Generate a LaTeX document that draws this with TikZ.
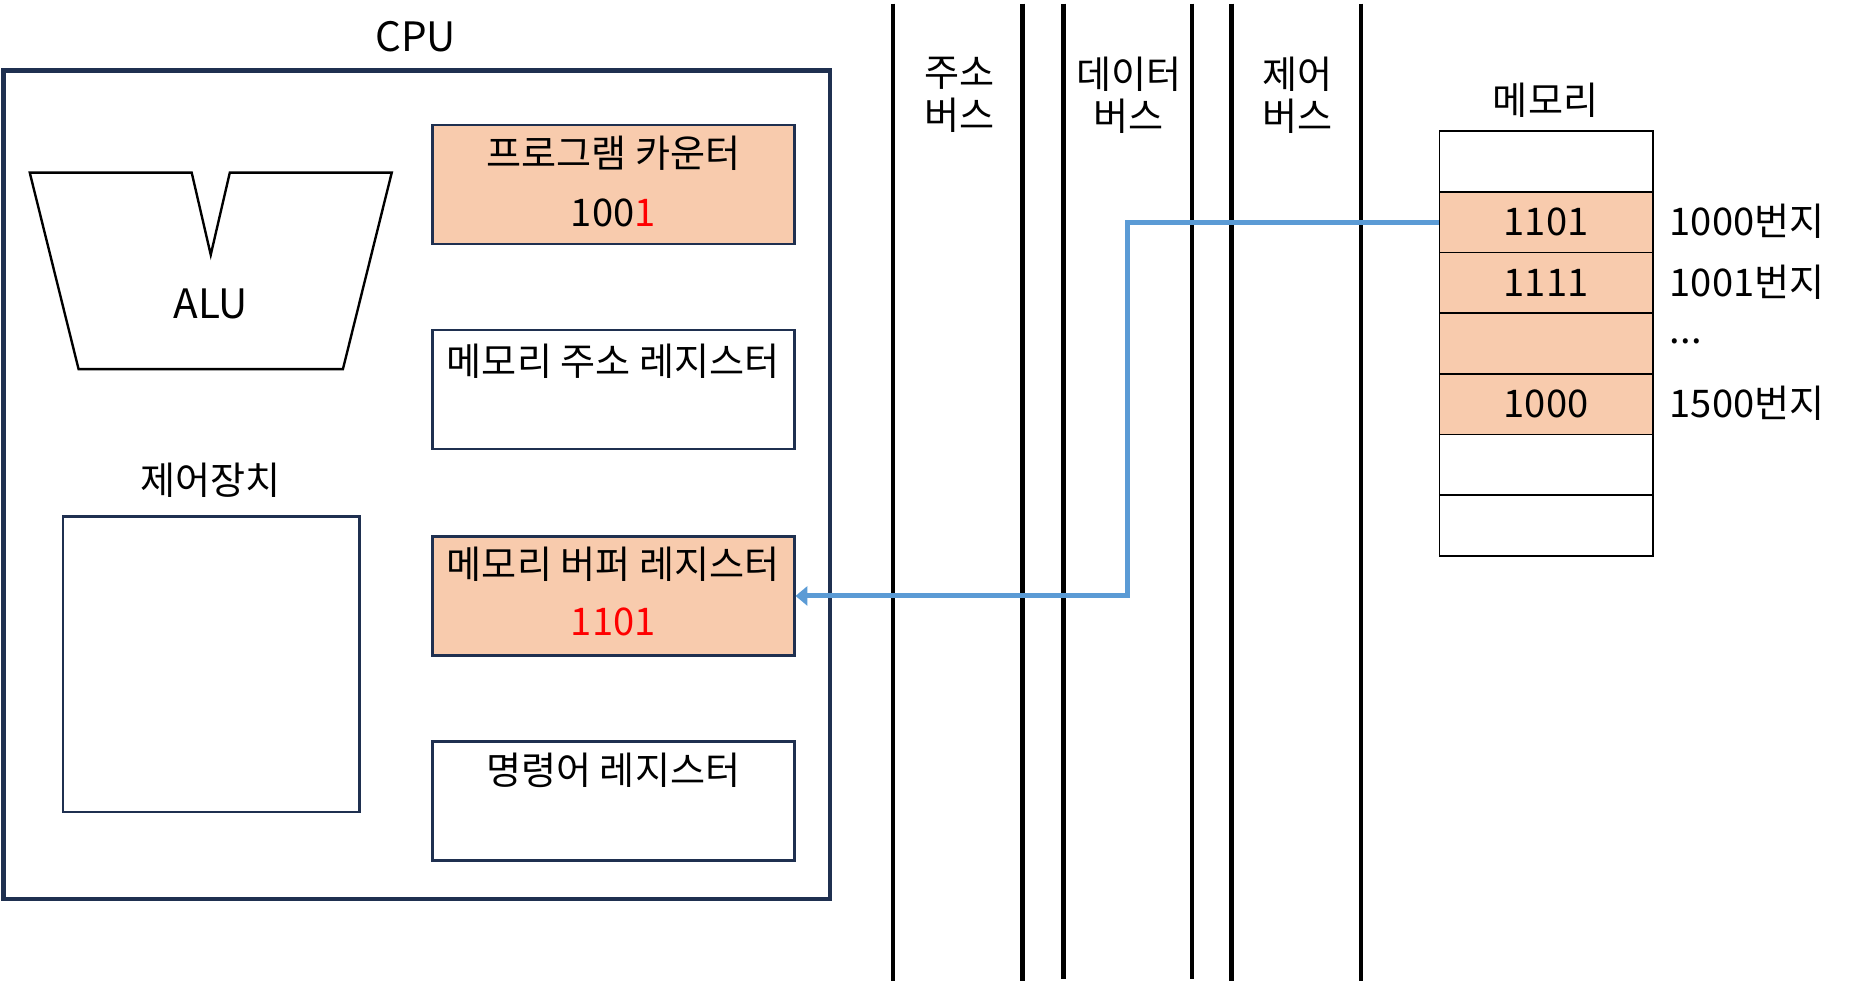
\documentclass[tikz,border=0pt]{standalone}
\usepackage{fontspec}
\setmainfont{Noto Sans CJK KR}
\usetikzlibrary{arrows.meta,positioning}
\definecolor{peach}{HTML}{F8CBAD}
\definecolor{navy}{HTML}{1F3050}
\definecolor{linkblue}{HTML}{5B9BD5}
\tikzset{
  txt/.style={inner sep=0pt, font=\fontsize{16pt}{18pt}\selectfont},
  reg/.style={draw=navy, line width=1.1pt, minimum width=152pt, minimum height=50pt, inner sep=0pt},
  cell/.style={draw=black, line width=0.7pt, minimum width=89.5pt, minimum height=25.5pt, inner sep=0pt},
  bus/.style={draw=black, line width=2pt},
  link/.style={draw=linkblue, line width=2.1pt, -{Triangle[length=5pt,width=8pt]}}
}
\begin{document}
\begin{tikzpicture}[x=0.5pt,y=-0.5pt]
\useasboundingbox (0,0) rectangle (1568,824);
% CPU
\node[txt, font=\fontsize{17pt}{19pt}\selectfont] (cpulabel) at (349,31) {CPU};
\node[draw=navy, line width=1.9pt, minimum width=347pt, minimum height=348pt, inner sep=0pt] (cpu) at (350,407) {};
% ALU
\draw[black, line width=1pt] (25,145) -- (161,145) -- (177,214) -- (193,145) -- (329,145) -- (288,310) -- (66,310) -- cycle;
\node[txt, font=\fontsize{17pt}{19pt}\selectfont] (alu) at (177,255) {ALU};
% control unit
\node[txt] (culabel) at (177,403) {제어장치};
\node[draw=navy, line width=1.1pt, minimum width=124.5pt, minimum height=124pt, inner sep=0pt] (cu) at (177.5,558) {};
% registers
\node[reg, fill=peach] (pc) at (515,155) {};
\node[txt] (pct) at (515,129) {프로그램 카운터};
\node[txt] (pcv) at (515,179) {100\textcolor{red}{1}};
\node[reg] (mar) at (515,327) {};
\node[txt] (mart) at (515,303) {메모리 주소 레지스터};
\node[reg, fill=peach] (mbr) at (515,500.5) {};
\node[txt] (mbrt) at (515,474) {메모리 버퍼 레지스터};
\node[txt, text=red] (mbrv) at (515,522) {1101};
\node[reg] (ir) at (515,672.5) {};
\node[txt] (irt) at (515,647) {명령어 레지스터};
% buses
\draw[bus] (750,3) -- (750,824);
\draw[bus] (859,3) -- (859,824);
\draw[bus] (893,3) -- (893,822);
\draw[bus] (1001,3) -- (1001,822);
\draw[bus] (1034,3) -- (1034,824);
\draw[bus] (1143,3) -- (1143,824);
\node[txt, align=center] (abus) at (806,80) {주소\\버스};
\node[txt, align=center] (dbus) at (948,80) {데이터\\버스};
\node[txt, align=center] (cbus) at (1090,80) {제어\\버스};
% memory
\node[txt] (memlabel) at (1298,84) {메모리};
\node[cell] (c0) at (1298.5,135.5) {};
\node[cell, fill=peach] (c1) at (1298.5,186.5) {\fontsize{16pt}{18pt}\selectfont 1101};
\node[cell, fill=peach] (c2) at (1298.5,237.5) {\fontsize{16pt}{18pt}\selectfont 1111};
\node[cell, fill=peach] (c3) at (1298.5,288.5) {};
\node[cell, fill=peach] (c4) at (1298.5,339.5) {\fontsize{16pt}{18pt}\selectfont 1000};
\node[cell] (c5) at (1298.5,390.5) {};
\node[cell] (c6) at (1298.5,441.5) {};
\node[txt, anchor=west] (a1) at (1402,186) {1000번지};
\node[txt, anchor=west] (a2) at (1402,237) {1001번지};
\node[txt, anchor=west] (a3) at (1402,287) {...};
\node[txt, anchor=west] (a4) at (1402,339) {1500번지};
% data transfer
\draw[link] (c1.west) -- ++(-261,0) |- (mbr.east);
\end{tikzpicture}
\end{document}
